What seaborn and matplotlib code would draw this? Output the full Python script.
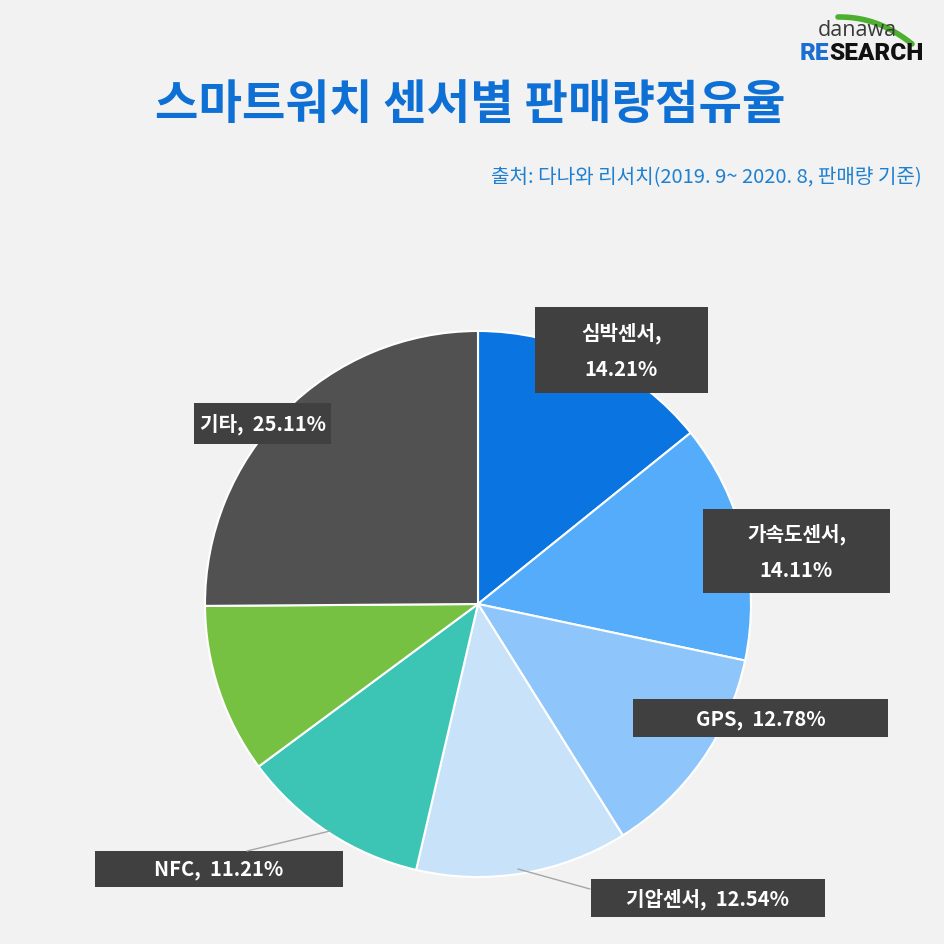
import numpy as np
import matplotlib
matplotlib.use("Agg")
import matplotlib.pyplot as plt
from matplotlib.patches import Rectangle
import seaborn as sns

# 데이터 (시계 방향, 12시 기준)
sensors = ["심박센서", "가속도센서", "GPS", "기압센서", "NFC", "기타센서", "기타"]
shares = [14.21, 14.11, 12.78, 12.54, 11.21, 10.04, 25.11]
colors = ["#0A74E0", "#55ACFB", "#8EC6FB", "#C8E2FA", "#3CC4B5", "#76C142", "#515151"]
label_text = ["심박센서,\n14.21%", "가속도센서,\n14.11%", "GPS,  12.78%", "기압센서,  12.54%",
              "NFC,  11.21%", None, "기타,  25.11%"]

sns.set_theme(style="white")
plt.rcParams["font.family"] = ["Noto Sans CJK KR", "DejaVu Sans"]

BG = "#F2F2F2"
W = H = 945
fig = plt.figure(figsize=(9.45, 9.45), dpi=100, facecolor=BG)

def fx(px):
    return px / W

def fy(py):
    return 1 - py / H

# 파이 차트 영역
cx, cy, r = 478, 605, 273
ax = fig.add_axes([fx(cx - r), fy(cy + r), 2 * r / W, 2 * r / H])
ax.set_facecolor(BG)
ax.pie(shares, colors=colors, startangle=90, counterclock=False, radius=1,
       wedgeprops=dict(edgecolor="white", linewidth=1.5))
ax.set_xlim(-1, 1)
ax.set_ylim(-1, 1)
ax.set_aspect("equal")
ax.axis("off")

# 제목 / 출처
fig.text(fx(470), fy(105), "스마트워치 센서별 판매량점유율", ha="center", va="center",
         fontsize=34, fontweight="bold", color="#0E70D4")
fig.text(fx(922), fy(178), "출처: 다나와 리서치(2019. 9~ 2020. 8, 판매량 기준)", ha="right",
         va="center", fontsize=14.5, color="#1F80D2")

# 로고
t = np.linspace(0, 1, 50)
fig.add_artist(plt.Line2D(fx(838 + 74 * t), fy(18 + 27 * t ** 2.2),
                          color="#4CAF2E", linewidth=4, solid_capstyle="round"))
fig.text(fx(857), fy(30), "danawa", ha="center", va="center", fontsize=15.5, color="#3A3A3A",
         family=["Open Sans", "DejaVu Sans"])
re_txt = fig.text(fx(800), fy(54), "RE", ha="left", va="center", fontsize=17.5,
                  fontweight="heavy", color="#1A6FD0", family=["Roboto", "DejaVu Sans"])
fig.canvas.draw()
re_right = re_txt.get_window_extent().x1
fig.text(re_right / W, fy(54), "SEARCH", ha="left", va="center", fontsize=17.5,
         fontweight="heavy", color="#111111", family=["Roboto", "DejaVu Sans"])

# 라벨 박스 (left, top, right, bottom) 픽셀
boxes = [(535, 308, 708, 394), (703, 510, 890, 594), (633, 700, 888, 738),
         (591, 880, 825, 918), (95, 852, 343, 888), None, (194, 404, 331, 445)]

# 지시선
leaders = [None, None, None, [(518, 870), (590, 890)], [(330, 832), (247, 852)], None, None]
for ln in leaders:
    if ln:
        fig.add_artist(plt.Line2D([fx(p[0]) for p in ln], [fy(p[1]) for p in ln],
                                  color="#A6A6A6", linewidth=1))

for txt, box in zip(label_text, boxes):
    if txt is None:
        continue
    l, tp, rr, b = box
    fig.add_artist(Rectangle((fx(l), fy(b)), (rr - l) / W, (b - tp) / H,
                             transform=fig.transFigure, facecolor="#404040", edgecolor="none"))
    fig.text(fx((l + rr) / 2), fy((tp + b) / 2), txt, ha="center", va="center",
             fontsize=14.5, fontweight="bold", color="white", linespacing=1.9)

fig.savefig("out.png", dpi=100, facecolor=BG)
